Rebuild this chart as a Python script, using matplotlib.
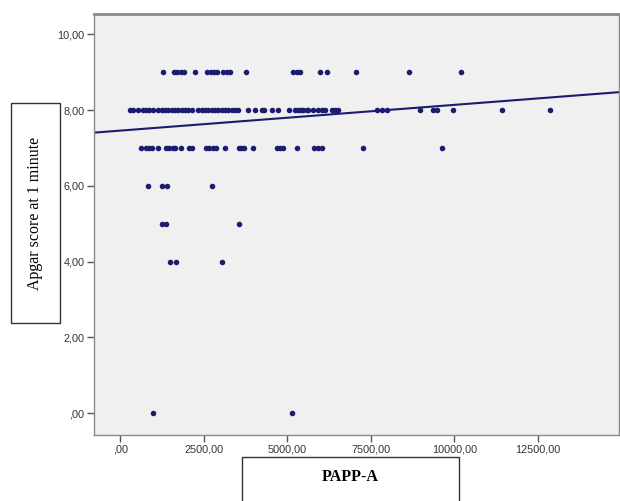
import numpy as np
import matplotlib.pyplot as plt
from matplotlib.patches import Rectangle
from matplotlib.ticker import FuncFormatter

# PAPP-A values, grouped by Apgar score
papp_9 = [1270, 1610, 1710, 1810, 1910, 2230, 2600, 2710, 2800, 2900, 3080,
          3190, 3280, 3760, 5180, 5280, 5380, 5980, 6180, 7060, 8650, 10200]
papp_8 = [290, 370, 540, 670, 770, 870, 970, 1130, 1240, 1340, 1440, 1540,
          1640, 1740, 1840, 1940, 2040, 2140, 2340, 2440, 2540, 2640, 2740,
          2840, 2930, 3040, 3140, 3230, 3340, 3430, 3530, 3810, 4030, 4230,
          4310, 4530, 4730, 5050, 5230, 5330, 5410, 5480, 5580, 5630, 5780,
          5930, 6030, 6130, 6330, 6430, 6530, 7700, 7840, 7990, 8960, 9370,
          9470, 9970, 11420, 12870]
papp_7 = [630, 780, 870, 960, 1130, 1370, 1470, 1570, 1650, 1830, 2050, 2140,
          2560, 2660, 2770, 2870, 3130, 3540, 3610, 3700, 3970, 4690, 4780,
          4860, 5280, 5800, 5920, 6040, 7280, 9630]
papp_6 = [840, 1250, 1400, 2750]
papp_5 = [1260, 1370, 3550]
papp_4 = [1500, 1680, 3050]
papp_0 = [970, 5140]

groups = [(9, papp_9), (8, papp_8), (7, papp_7), (6, papp_6),
          (5, papp_5), (4, papp_4), (0, papp_0)]
x = np.concatenate([np.array(g, float) for _, g in groups])
y = np.concatenate([np.full(len(g), s, float) for s, g in groups])

# fit line as shown in the chart
fit_intercept = 7.46
fit_slope = 6.8e-5

navy = '#1c1c6e'

fig = plt.figure(figsize=(6.2, 5.01), dpi=100)
ax = fig.add_axes([94/620, 66/501, 525/620, 421/501])
ax.set_facecolor('#f0f0f0')

ax.scatter(x, y, s=16, color=navy, linewidths=0, zorder=3)
xl = np.array([-787, 14931])
ax.plot(xl, fit_intercept + fit_slope * xl, color=navy, lw=1.5, zorder=2)

ax.set_xlim(-787, 14931)
ax.set_ylim(-0.58, 10.54)
ax.set_xticks([0, 2500, 5000, 7500, 10000, 12500])
ax.set_yticks([0, 2, 4, 6, 8, 10])


def spss_fmt(v, pos):
    s = "{:.2f}".format(v).replace('.', ',')
    if s.startswith('0,'):
        s = s[1:]
    return s


ax.xaxis.set_major_formatter(FuncFormatter(spss_fmt))
ax.yaxis.set_major_formatter(FuncFormatter(spss_fmt))
ax.tick_params(direction='out', length=5, width=1, color='#555555',
               labelsize=7.8, labelcolor='#333333', pad=2)
for lab in ax.get_xticklabels() + ax.get_yticklabels():
    lab.set_family('Liberation Sans')
for sp in ax.spines.values():
    sp.set_color('#8a8a8a')
    sp.set_linewidth(1)
ax.spines['top'].set_linewidth(2)

# boxed axis titles
fig.patches.append(Rectangle((11/620, 178/501), 49/620, 220/501,
                             transform=fig.transFigure, fill=False,
                             edgecolor='#333333', lw=1))
fig.text(35/620, 1 - 213/501, 'Apgar score at 1 minute', rotation=90,
         ha='center', va='center', family='Liberation Serif', fontsize=11.5)

fig.patches.append(Rectangle((242/620, -0.05), 217/620, 44/501 + 0.05,
                             transform=fig.transFigure, fill=False,
                             edgecolor='#333333', lw=1))
fig.text(350/620, 1 - 477/501, 'PAPP-A', ha='center', va='center',
         family='Liberation Serif', fontweight='bold', fontsize=11.5)

fig.savefig('out.png', dpi=100)
